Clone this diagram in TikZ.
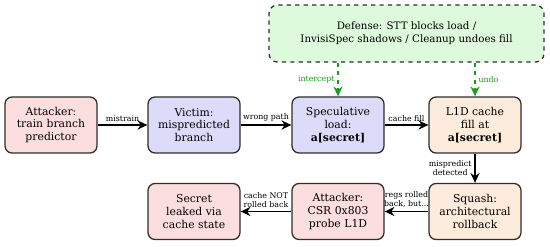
\documentclass[tikz,border=0pt]{standalone}
\usepackage{fontspec}
\setmainfont{DejaVu Serif}
\usetikzlibrary{arrows.meta}

\definecolor{atkfill}{HTML}{FDDEDE}
\definecolor{vicfill}{HTML}{DCDCFA}
\definecolor{cachefill}{HTML}{FDEBDB}
\definecolor{deffill}{HTML}{DDFADD}
\definecolor{boxline}{HTML}{2E2E2E}
\definecolor{defgreen}{HTML}{1E9A1E}

\tikzset{
  stage/.style={draw=boxline, line width=0.9pt, rounded corners=5pt,
    minimum width=2.3cm, minimum height=1.4cm, align=center, inner sep=1pt,
    font=\fontsize{7.7}{9.1}\selectfont},
  flow/.style={line width=1pt, -{Stealth[length=7pt,width=6.5pt]}},
  defflow/.style={defgreen, line width=1pt, dashed, -{Stealth[length=7pt,width=6.5pt]}},
  lbl/.style={font=\fontsize{5.6}{6.8}\selectfont, align=center, inner sep=2pt},
}

\begin{document}
\begin{tikzpicture}
  \useasboundingbox (0,0) rectangle (13.75,6.15);

  % Top row
  \node[stage, fill=atkfill] (train) at (1.275,3.025) {Attacker:\\train branch\\predictor};
  \node[stage, fill=vicfill] (victim) at (4.85,3.025) {Victim:\\mispredicted\\branch};
  \node[stage, fill=vicfill] (spec) at (8.45,3.025) {Speculative\\load:\\\textbf{a[secret]}};
  \node[stage, fill=cachefill] (fill) at (11.875,3.025) {L1D cache\\fill at\\\textbf{a[secret]}};

  % Bottom row
  \node[stage, fill=cachefill] (squash) at (11.875,0.8625) {Squash:\\architectural\\rollback};
  \node[stage, fill=atkfill] (probe) at (8.45,0.8625) {Attacker:\\CSR 0x803\\probe L1D};
  \node[stage, fill=atkfill] (leak) at (4.85,0.8625) {Secret\\leaked via\\cache state};

  % Defense box
  \node[draw=boxline, line width=0.9pt, dashed, rounded corners=6pt, fill=deffill,
    minimum width=6.875cm, minimum height=1.425cm, align=center,
    font=\fontsize{7.3}{9.4}\selectfont] (defense) at (10.1625,5.3125)
    {Defense: STT blocks load /\\InvisiSpec shadows / Cleanup undoes fill};

  % Attack flow
  \draw[flow] (train) -- node[lbl, above] {mistrain} (victim);
  \draw[flow] (victim) -- node[lbl, above] {wrong path} (spec);
  \draw[flow] (spec) -- node[lbl, above] {cache fill} (fill);
  \draw[flow] (fill) -- node[lbl, left] {mispredict\\detected} (squash);
  \draw[flow] (squash) -- node[lbl, above] {regs rolled\\back, but...} (probe);
  \draw[flow] (probe) -- node[lbl, above] {cache NOT\\rolled back} (leak);

  % Defense hooks
  \draw[defflow] (spec.north |- defense.south) -- node[lbl, left, defgreen] {intercept} (spec.north);
  \draw[defflow] (fill.north |- defense.south) -- node[lbl, right, defgreen] {undo} (fill.north);
\end{tikzpicture}
\end{document}
